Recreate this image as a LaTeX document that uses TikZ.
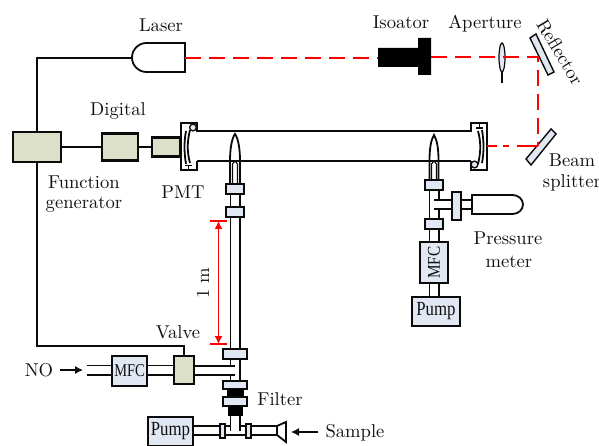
\documentclass[tikz,border=0pt]{standalone}
\usepackage{fontspec}
\usepackage{graphicx}
\setmainfont{lmroman10-regular}[Extension=.otf]
\newfontfamily\timesf{Liberation Serif}
\usetikzlibrary{arrows.meta,backgrounds}
\definecolor{beigec}{HTML}{DDE0C8}
\definecolor{bluec}{HTML}{E1E7F3}
\definecolor{ink}{HTML}{0A0A0A}
\definecolor{txt}{HTML}{111111}
\newcommand{\bx}[6]{\node[#1,minimum width={(#5-#3)*1pt},minimum height={(#6-#4)*1pt}] (#2) at ({(#3+#5)/2},{(#4+#6)/2}) {};}
\tikzset{
  lbl/.style={text=txt,inner sep=0pt,font=\fontsize{18.6}{20}\selectfont},
  bbox/.style={draw=ink,line width=2.1pt,fill=beigec,inner sep=0pt},
  cbox/.style={draw=ink,line width=2.1pt,fill=bluec,inner sep=0pt},
  blk/.style={draw=black,fill=black,inner sep=0pt},
  wire/.style={draw=ink,line width=1.8pt},
  thinwire/.style={draw=ink,line width=1.1pt},
  pipe/.style={draw=ink,line width=1.9pt,double=white,double distance=7.2pt},
  tube/.style={draw=ink,line width=1.9pt,double=white,double distance=28pt},
  beam/.style={draw=red,line width=1.9pt,dash pattern=on 16pt off 8pt},
  redarrow/.style={draw=red,line width=1.2pt,-{Latex[length=8pt,width=8pt]}},
  blackarrow/.style={draw=ink,line width=1.1pt,-{Latex[length=8pt,width=8pt]}},
  serif/.style={text=txt,inner sep=0pt,font=\timesf\fontsize{20}{22}\selectfont},
  serifs/.style={text=txt,inner sep=0pt,font=\timesf\fontsize{18}{20}\selectfont},
}
\begin{document}
\begin{tikzpicture}[x=1pt,y=-1pt]
\useasboundingbox (0,0) rectangle (599,446);
% coordinates
\coordinate (laserL) at (132,58);
\coordinate (laserR) at (185,58);
\coordinate (isoL) at (378,58);
\coordinate (isoR) at (431,57);
\coordinate (mirror) at (538,57);
\coordinate (split) at (538,146);
\coordinate (flangeR) at (487,146);
\coordinate (tubeL) at (197,146);
\coordinate (tubeR) at (471,146);
\coordinate (wireB) at (37,346);
\coordinate (noL) at (87,370);
\coordinate (junA) at (235,370.5);
\coordinate (junB) at (235,430.5);
\coordinate (junC) at (434,204.5);
\coordinate (funL) at (277,430.5);
\coordinate (gaugeL) at (472,204.5);
% boxes
\bx{bbox}{gen}{13}{132}{61}{162}
\bx{bbox}{dig}{102}{133.5}{138}{160.5}
\bx{bbox}{pmt}{152}{137.5}{180}{156.5}
\bx{cbox}{mfcA}{112}{356}{147}{386}
\bx{bbox}{valve}{174}{356}{194}{384}
\bx{cbox}{pumpA}{148}{417}{193}{446}
\bx{cbox}{mfcB}{420}{242}{448}{283}
\bx{cbox}{pumpB}{412}{297}{460}{326}
\bx{cbox}{cA}{226}{184}{244}{194}
\bx{cbox}{cB}{226}{207}{244}{217}
\bx{cbox}{cC}{223}{349}{247}{359}
\bx{cbox}{cD}{223}{381}{247}{389}
\bx{blk}{bA}{227}{389}{243}{397}
\bx{cbox}{cE}{223}{397}{247}{406}
\bx{blk}{bB}{228}{406}{242}{415}
\node[cbox,line width=1.4pt,minimum width=5pt,minimum height=14pt] (fitA) at (222.5,431) {};
\node[cbox,line width=1.4pt,minimum width=5pt,minimum height=14pt] (fitB) at (248.5,431) {};
\bx{cbox}{cF}{425}{180}{443}{190}
\bx{cbox}{cG}{425}{219}{443}{229}
\bx{cbox}{gaugeF}{452}{192}{461}{220}
% connections under the fittings
\begin{pgfonlayer}{background}
\draw[wire] (gen.north) -- (gen.north |- laserL) -- (laserL);
\draw[wire] (gen.south) -- (wireB) -- (wireB -| valve.north) -- (valve.north);
\draw[thinwire] (gen.east) -- (dig.west);
\draw[thinwire] (dig.east) -- (pmt.west);
\draw[tube] (tubeL) -- (tubeR);
\draw[pipe] (cA) -- (cB);
\draw[pipe] (cB) -- (cC);
\draw[pipe] (cC) -- (cD);
\draw[pipe] (pumpA.east |- funL) -- (funL);
\draw[pipe] (mfcA.east |- noL) -- (valve.west |- noL);
\draw[pipe] (noL) -- (mfcA.west |- noL);
\draw[pipe] (valve.east |- junA) -- (junA);
\draw[pipe] (bB.south) -- (junB);
\draw[pipe] (cF) -- (cG);
\draw[pipe] (cG) -- (mfcB);
\draw[pipe] (mfcB.south) -- (mfcB.south |- pumpB.north);
\draw[pipe] (gaugeL) -- (junC);
\end{pgfonlayer}
% nozzle left
\draw[wire] (230,184) -- (230,161) .. controls (230,148) and (232,138) .. (235,134) .. controls (238,138) and (240,148) .. (240,161) -- (240,184);
\draw[thinwire] (232.5,184) -- (232.5,164) -- (235,161) -- (237.5,164) -- (237.5,184);
% funnel
\draw[wire,fill=white] (277,426) -- (286,422) -- (286,442) -- (277,435) -- cycle;
% pressure gauge
\draw[wire,fill=white] (472,195) -- (512.5,195) arc[start angle=90,end angle=-90,x radius=10.5pt,y radius=9.5pt] -- (472,214) -- cycle;
% nozzle right
\draw[wire] (429.5,180) -- (429.5,161) .. controls (429.5,148) and (431,140) .. (434,135) .. controls (437,140) and (438.5,148) .. (438.5,161) -- (438.5,180);
\draw[thinwire] (431.5,180) -- (431.5,164) -- (434,161) -- (436.5,164) -- (436.5,180);
% flange left
\draw[wire,fill=white] (197,132) -- (197,123) -- (181,123) -- (181,170) -- (197,170) -- (197,161);
\draw[wire,line width=2.6pt] (181,136) -- (181,160);
\draw[wire] (186,131) .. controls (184,142) and (184,152) .. (186,164);
\draw[wire] (190,130) .. controls (187,142) and (187,152) .. (190,163);
\draw[wire,fill=bluec,line width=1.3pt] (193,127.5) circle[radius=3.4pt];
\draw[wire] (185,165.5) -- (192,165.5) (188.5,165.5) -- (188.5,170);
% flange right
\draw[wire,fill=white] (471,132) -- (471,123) -- (487,123) -- (487,170) -- (471,170) -- (471,161);
\draw[wire] (482,130) .. controls (484,142) and (484,152) .. (482,163);
\draw[wire] (478,131) .. controls (481,142) and (481,152) .. (478,164);
\draw[wire,fill=bluec,line width=1.3pt] (474.5,164.5) circle[radius=3.4pt];
\draw[wire] (476,128) -- (483,128) (479.5,123) -- (479.5,128);
% laser
\draw[wire,fill=white] (185,43) -- (146.5,43) arc[start angle=90,end angle=270,radius=14.5pt] -- (185,72) -- cycle;
% optics
\fill[black] (378,48) -- (418,48) -- (418,38) -- (431,38) -- (431,75) -- (418,75) -- (418,67) -- (378,67) -- cycle;
\draw[ink,line width=1.2pt,fill=bluec] (502,57.5) ellipse[x radius=3pt,y radius=14.5pt];
\draw[ink,line width=1.2pt] (502,72) -- (502,83);
\draw[ink,line width=1.4pt,fill=bluec] (530,38) -- (536,34) -- (554,72) -- (548,75) -- cycle;
\draw[ink,line width=1.4pt,fill=bluec] (551,129) -- (556,134) -- (531,165) -- (526,159) -- cycle;
% beam
\draw[beam] (laserR) -- (isoL);
\draw[beam] (isoR) -- (mirror) -- (split);
\draw[draw=red,line width=1.9pt,dash pattern=on 10pt off 6pt on 6pt off 8pt on 20pt off 0pt] (flangeR) -- (split);
% scale bar
\coordinate (barT) at (218.5,221);
\coordinate (barB) at (218.5,344);
\draw[red,line width=1.2pt] (210,221) -- (227,221) (210,344) -- (227,344);
\draw[redarrow] (218.5,270) -- (barT);
\draw[redarrow] (218.5,270) -- (barB);
% arrows
\draw[blackarrow] (60,370) -- (83,370);
\draw[blackarrow] (318,432) -- (291,432);
% labels
\node[lbl] (tLaser) at (161,25) {Laser};
\node[lbl] (tIso) at (401,22) {Isoator};
\node[lbl] (tAp) at (485,24) {Aperture};
\node[lbl,rotate=-59] (tRef) at (560,52) {Reflector};
\node[lbl] (tBeam) at (572,160) {Beam};
\node[lbl] (tSpl) at (572,183) {splitter};
\node[lbl] (tDig) at (118,111) {Digital};
\node[lbl] (tFun) at (84,182) {Function};
\node[lbl] (tGen) at (84,205) {generator};
\node[lbl] (tPmt) at (183,192) {PMT};
\node[lbl] (tPre) at (508,238) {Pressure};
\node[lbl] (tMet) at (509,262) {meter};
\node[lbl,rotate=90] (tOne) at (203,283) {1 m};
\node[lbl] (tVal) at (178,332) {Valve};
\node[lbl] (tNo) at (39,370) {NO};
\node[lbl] (tFil) at (280,399) {Filter};
\node[lbl] (tSam) at (355,433) {Sample};
\node[serifs] at (mfcA) {\scalebox{0.8}[1]{MFC}};
\node[serifs,rotate=90] at (mfcB) {\scalebox{0.85}[1]{MFC}};
\node[serif] at (pumpA) {\scalebox{0.84}[1]{Pump}};
\node[serif] at (pumpB) {\scalebox{0.84}[1]{Pump}};
\end{tikzpicture}
\end{document}
